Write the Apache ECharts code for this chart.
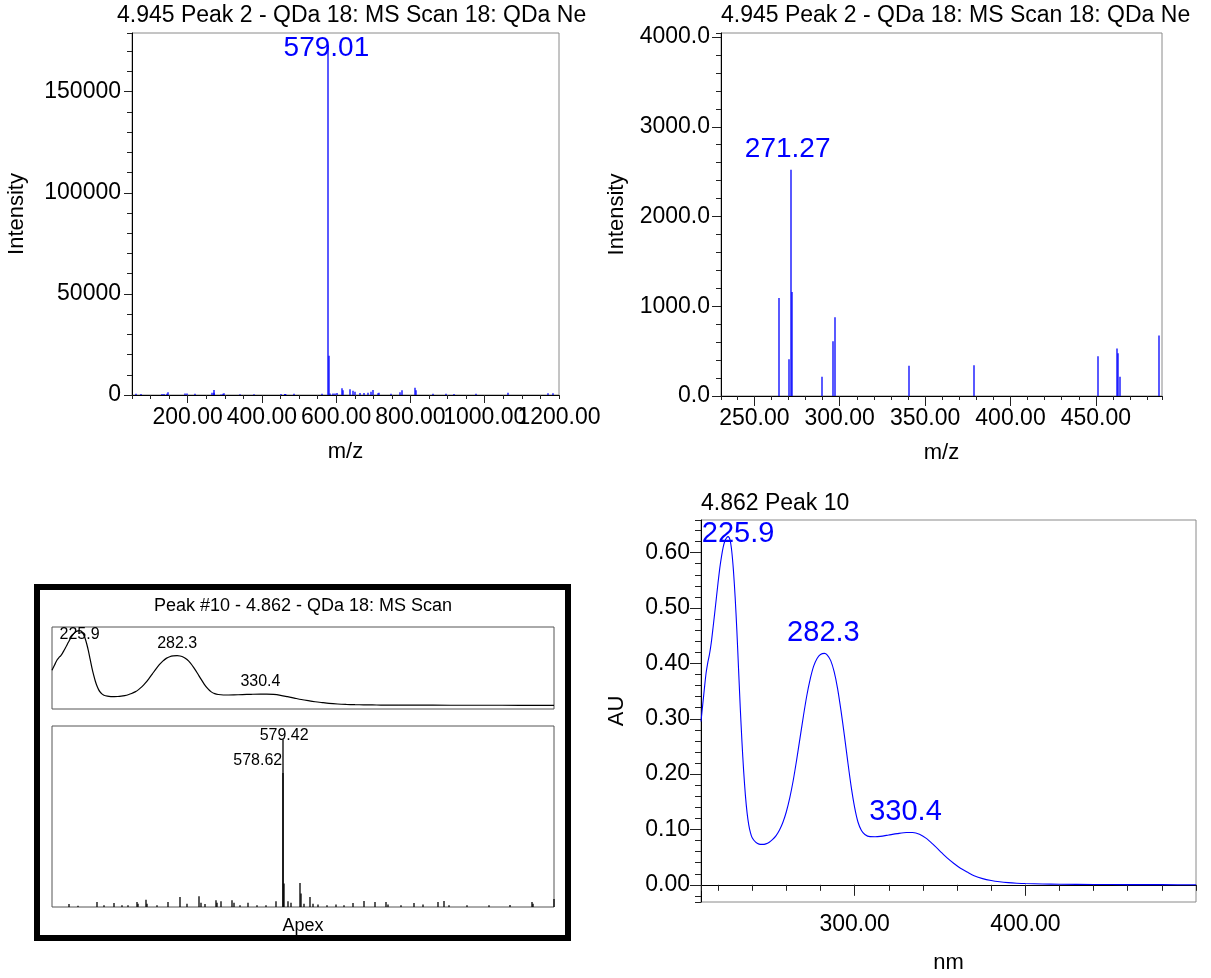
<!DOCTYPE html>
<html><head><meta charset="utf-8">
<script src="https://cdn.jsdelivr.net/npm/echarts@6/dist/echarts.min.js"></script>
<style>html,body{margin:0;padding:0;background:#fff}#c{width:1211px;height:978px}</style>
</head><body><div id="c"></div>
<script>
// ---------------- DATA ----------------
// MS scan (4.945 Peak 2) : m/z and intensity
const msMz = [62, 73, 130, 137, 143, 147, 193, 198, 221, 264.2, 270.5, 271.27, 271.9, 289.7, 295.9, 297.3, 340.7, 378.5, 451.1, 462.4, 463.2, 464.3, 487.0, 562, 579.01, 580.0, 583, 590, 596, 601, 614.4, 617, 637.6, 645, 650.3, 663, 675, 684.5, 692.6, 699.6, 711.5, 715, 747, 771.5, 777.8, 812, 815.5, 861, 894.7, 918, 976.4, 1062, 1169.6, 1185];
const msIntensity = [600, 500, 500, 450, 600, 1300, 800, 700, 600, 1093, 409, 2520, 1159, 215, 609, 877, 338, 342, 442, 528, 476, 215, 673, 600, 172000, 19400, 800, 700, 800, 990, 3300, 2300, 2800, 2100, 1650, 990, 990, 1150, 1650, 2470, 820, 1150, 660, 1320, 2300, 3600, 2300, 660, 660, 500, 660, 1150, 820, 820];
const msLabelMz = [579.01];
const msZoomLabelMz = [271.27];

// UV spectrum (4.862 Peak 10): wavelength (nm) and absorbance (AU)
const uvNm = [210, 211, 212, 213, 214, 215, 216, 217, 218, 219, 220, 221, 222, 223, 224, 225, 225.9, 227, 228, 229, 230, 231, 232, 233, 234, 235, 236, 237, 238, 239, 240, 242, 244, 246, 248, 250, 252, 254, 256, 258, 260, 262, 264, 266, 268, 270, 272, 274, 276, 278, 280, 282.3, 284, 286, 288, 290, 292, 294, 296, 298, 300, 302, 304, 306, 309, 312, 315, 320, 325, 330.4, 334, 338, 342, 346, 350, 354, 358, 362, 366, 370, 375, 380, 385, 390, 395, 400, 410, 420, 440, 460, 480, 500];
const uvAu = [0.295, 0.325, 0.355, 0.383, 0.402, 0.417, 0.437, 0.463, 0.49, 0.518, 0.546, 0.572, 0.593, 0.61, 0.621, 0.627, 0.629, 0.623, 0.603, 0.568, 0.52, 0.46, 0.39, 0.32, 0.258, 0.205, 0.162, 0.13, 0.108, 0.094, 0.085, 0.077, 0.0735, 0.073, 0.074, 0.077, 0.082, 0.089, 0.099, 0.113, 0.132, 0.157, 0.188, 0.225, 0.265, 0.305, 0.342, 0.372, 0.395, 0.409, 0.416, 0.418, 0.415, 0.405, 0.385, 0.355, 0.315, 0.27, 0.222, 0.177, 0.14, 0.113, 0.098, 0.091, 0.087, 0.0868, 0.0875, 0.09, 0.0925, 0.0945, 0.0945, 0.0915, 0.084, 0.073, 0.061, 0.049, 0.039, 0.03, 0.023, 0.0165, 0.0112, 0.0078, 0.0055, 0.004, 0.003, 0.0023, 0.0015, 0.001, 0.0006, 0.0004, 0.0003, 0.0002];
const uvLabelNm = [225.9, 282.3, 330.4];

// Inset MS scan (Peak #10 apex), relative intensity
const insetMz = [89, 110, 152, 170, 192, 210, 225, 245, 248, 265, 268, 290, 315, 343, 359, 386, 392, 400, 425, 429, 438, 462, 466, 480, 499, 520, 540, 563, 578.62, 579.42, 580.4, 590, 597, 617, 620, 627, 642, 648, 660, 680, 700, 720, 740, 764, 790, 816, 820, 850, 880, 900, 934, 948, 960, 1000, 1050, 1100, 1149, 1152, 1200];
const insetRel = [1.8, 0.8, 3, 1, 2.4, 1, 1, 3, 2, 4.4, 2, 1, 3, 6, 2, 6.4, 2.5, 1.8, 4, 2.5, 3.5, 4, 2.5, 1, 2.5, 1, 1, 3.5, 80, 100, 14, 3.5, 2.5, 14.3, 8, 2, 6, 2, 1.5, 1, 1.5, 1, 2.4, 3.6, 3, 3, 1.5, 1, 2.4, 1.5, 3, 3.6, 1, 1, 1, 1.2, 3, 2, 4.8];
const insetLabelMz = [579.42, 578.62];

// Titles and axis names
const titleMS = '4.945 Peak 2 - QDa 18: MS Scan 18: QDa Ne';
const titleUV = '4.862 Peak 10';
const titleInset = 'Peak #10 - 4.862 - QDa 18: MS Scan';
const insetFoot = 'Apex';

// ---------------- STYLE / LAYOUT ----------------
const FONT = '"Liberation Sans", Arial, Helvetica, sans-serif';
const BLUE = '#0000ff';
const msPairs = msMz.map((m, i) => [m, msIntensity[i]]);
const uvPairs = uvNm.map((n, i) => [n, uvAu[i]]);
const insetPairs = insetMz.map((m, i) => [m, insetRel[i]]);
const lookup = (xs, ys, v) => ys[xs.indexOf(v)];

function stick(color, width) {
  return function (params, api) {
    const x = api.value(0), y = api.value(1);
    const cs = params.coordSys;
    const b = api.coord([x, 0]);
    const t = api.coord([x, y]);
    if (b[0] < cs.x - 0.5 || b[0] > cs.x + cs.width + 0.5) return null;
    const px = Math.round(b[0]);
    return { type: 'line', shape: { x1: px, y1: b[1], x2: px, y2: Math.max(t[1], cs.y) },
      style: { stroke: color, lineWidth: width } };
  };
}
function labeler(texts, offsets, color, size) {
  return function (params, api) {
    const p = api.coord([api.value(0), api.value(1)]);
    const o = offsets[params.dataIndex];
    return { type: 'text', x: p[0] + o[0], y: p[1] + o[1],
      style: { text: texts[params.dataIndex], fill: color, fontSize: size, fontFamily: FONT,
        align: 'center', verticalAlign: 'middle' } };
  };
}
function minorAxis(gridIndex, min, max, tickLen, o) {
  return Object.assign({ type: 'value', gridIndex, min, max, scale: true,
    axisLine: { show: true, lineStyle: { color: '#000', width: 1 } },
    axisTick: { show: true, length: tickLen, lineStyle: { color: '#222' } },
    axisLabel: { show: false }, splitLine: { show: false } }, o);
}
function majorAxis(gridIndex, min, max, tickLen, fmt, showMin, showMax, o) {
  return Object.assign({ type: 'value', gridIndex, min, max, scale: true,
    axisLine: { show: false },
    axisTick: { show: tickLen > 0, length: tickLen, lineStyle: { color: '#222' } },
    axisLabel: { show: true, formatter: fmt, color: '#000', fontSize: 23, fontFamily: FONT, margin: 11,
      showMinLabel: showMin, showMaxLabel: showMax, hideOverlap: false },
    splitLine: { show: false },
    nameLocation: 'middle',
    nameTextStyle: { color: '#000', fontSize: 22, fontFamily: FONT } }, o);
}
const hidden = (gridIndex, min, max) => ({ type: 'value', gridIndex, min, max, scale: true, show: false, splitLine: { show: false } });
const fmt2 = v => v.toFixed(2);

const gridBox = { show: true, borderColor: '#8a8a8a', borderWidth: 1, backgroundColor: '#fff', containLabel: false };
const insetBox = { show: true, borderColor: '#555', borderWidth: 1, backgroundColor: '#fff', containLabel: false };

const option = {
  animation: false,
  backgroundColor: '#fff',
  textStyle: { fontFamily: FONT },
  title: [
    { text: titleMS, left: 117, top: 4, padding: 0, textStyle: { fontSize: 23, fontWeight: 'normal', color: '#000', fontFamily: FONT } },
    { text: titleMS, left: 721, top: 4, padding: 0, textStyle: { fontSize: 23, fontWeight: 'normal', color: '#000', fontFamily: FONT } },
    { text: titleUV, left: 701, top: 492, padding: 0, textStyle: { fontSize: 23, fontWeight: 'normal', color: '#000', fontFamily: FONT } }
  ],
  grid: [
    Object.assign({ left: 132, top: 33, width: 427, height: 362 }, gridBox),
    Object.assign({ left: 721, top: 33, width: 441, height: 363 }, gridBox),
    Object.assign({ left: 701, top: 520, width: 495, height: 382 }, gridBox),
    Object.assign({ left: 52, top: 627, width: 502, height: 82 }, insetBox),
    Object.assign({ left: 52, top: 726, width: 502, height: 181 }, insetBox)
  ],
  xAxis: [
    minorAxis(0, 50, 1200, 4, { position: 'bottom', interval: 50 }),
    majorAxis(0, 50, 1200, 8, fmt2, false, false, { position: 'bottom', splitNumber: 5, name: 'm/z', nameGap: 46 }),
    minorAxis(1, 230.5, 488.7, 4, { position: 'bottom', splitNumber: 26 }),
    majorAxis(1, 230.5, 488.7, 10, fmt2, false, false, { position: 'bottom', splitNumber: 5, name: 'm/z', nameGap: 46 }),
    minorAxis(2, 210, 500, 6, { position: 'bottom', splitNumber: 15 }),
    majorAxis(2, 210, 500, 11, fmt2, false, false, { position: 'bottom', splitNumber: 3, name: 'nm', nameGap: 50 }),
    hidden(3, 210, 500),
    hidden(4, 50, 1200),
    // end label of the top-left m/z axis (shown separately so it is not thinned out)
    majorAxis(0, 50, 1200, 0, v => (v === 1200 ? fmt2(v) : ''), false, true, { position: 'bottom', splitNumber: 5 })
  ],
  yAxis: [
    minorAxis(0, 0, 179000, 5, { position: 'left', interval: 10000 }),
    majorAxis(0, 0, 179000, 8, v => String(Math.round(v)), true, false, { position: 'left', interval: 50000, name: 'Intensity', nameGap: 104 }),
    minorAxis(1, 0, 4045, 5, { position: 'left', interval: 200 }),
    majorAxis(1, 0, 4045, 9, v => v.toFixed(1), true, false, { position: 'left', interval: 1000, name: 'Intensity', nameGap: 93 }),
    minorAxis(2, -0.031, 0.659, 6, { position: 'left', splitNumber: 35 }),
    majorAxis(2, -0.031, 0.659, 11, v => v.toFixed(2), false, false, { position: 'left', splitNumber: 7, name: 'AU', nameGap: 73 }),
    hidden(3, -0.031, 0.659),
    hidden(4, 0, 108)
  ],
  graphic: [
    { type: 'rect', z: 100, silent: true, shape: { x: 37, y: 587, width: 531, height: 351 },
      style: { fill: 'none', stroke: '#000', lineWidth: 6 } },
    { type: 'text', z: 100, x: 303, y: 606, style: { text: titleInset, fill: '#000', fontSize: 18, fontFamily: FONT, align: 'center', verticalAlign: 'middle' } },
    { type: 'text', z: 100, x: 303, y: 926, style: { text: insetFoot, fill: '#000', fontSize: 18, fontFamily: FONT, align: 'center', verticalAlign: 'middle' } }
  ],
  series: [
    { type: 'custom', xAxisIndex: 1, yAxisIndex: 1, data: msPairs, encode: { x: 0, y: 1 }, renderItem: stick(BLUE, 1.3), z: 3 },
    { type: 'custom', xAxisIndex: 1, yAxisIndex: 1, data: msLabelMz.map(m => [m, lookup(msMz, msIntensity, m)]), encode: { x: 0, y: 1 },
      renderItem: labeler(msLabelMz.map(m => m.toFixed(2)), [[-2, 1]], BLUE, 28), z: 5 },
    { type: 'custom', xAxisIndex: 3, yAxisIndex: 3, data: msPairs, encode: { x: 0, y: 1 }, renderItem: stick(BLUE, 1.3), z: 3 },
    { type: 'custom', xAxisIndex: 3, yAxisIndex: 3, data: msZoomLabelMz.map(m => [m, lookup(msMz, msIntensity, m)]), encode: { x: 0, y: 1 },
      renderItem: labeler(msZoomLabelMz.map(m => m.toFixed(2)), [[-3, -21]], BLUE, 28), z: 5 },
    { type: 'line', xAxisIndex: 5, yAxisIndex: 5, data: uvPairs, showSymbol: false, smooth: 0.25,
      lineStyle: { color: BLUE, width: 1.1 }, itemStyle: { color: BLUE }, z: 3 },
    { type: 'custom', xAxisIndex: 5, yAxisIndex: 5, data: uvLabelNm.map(n => [n, lookup(uvNm, uvAu, n)]), encode: { x: 0, y: 1 },
      renderItem: labeler(uvLabelNm.map(n => n.toFixed(1)), [[10, -3], [-1, -20], [-1, -21]], BLUE, 29), z: 5 },
    { type: 'line', xAxisIndex: 6, yAxisIndex: 6, data: uvPairs, showSymbol: false, smooth: 0.25,
      lineStyle: { color: '#000', width: 1.2 }, itemStyle: { color: '#000' }, z: 3 },
    { type: 'custom', xAxisIndex: 6, yAxisIndex: 6, data: uvLabelNm.map(n => [n, lookup(uvNm, uvAu, n)]), encode: { x: 0, y: 1 },
      renderItem: labeler(uvLabelNm.map(n => n.toFixed(1)), [[0, 4], [0, -12], [0, -12]], '#000', 16), z: 5 },
    { type: 'custom', xAxisIndex: 7, yAxisIndex: 7, data: insetPairs, encode: { x: 0, y: 1 }, renderItem: stick('#000', 1.3), z: 3 },
    { type: 'custom', xAxisIndex: 7, yAxisIndex: 7, data: insetLabelMz.map(m => [m, lookup(insetMz, insetRel, m)]), encode: { x: 0, y: 1 },
      renderItem: labeler(insetLabelMz.map(m => m.toFixed(2)), [[1, -4], [-25, -12]], '#000', 16), z: 5 }
  ]
};
const chart = echarts.init(document.getElementById('c'), null, { renderer: 'canvas' });
chart.setOption(option);
</script></body></html>
